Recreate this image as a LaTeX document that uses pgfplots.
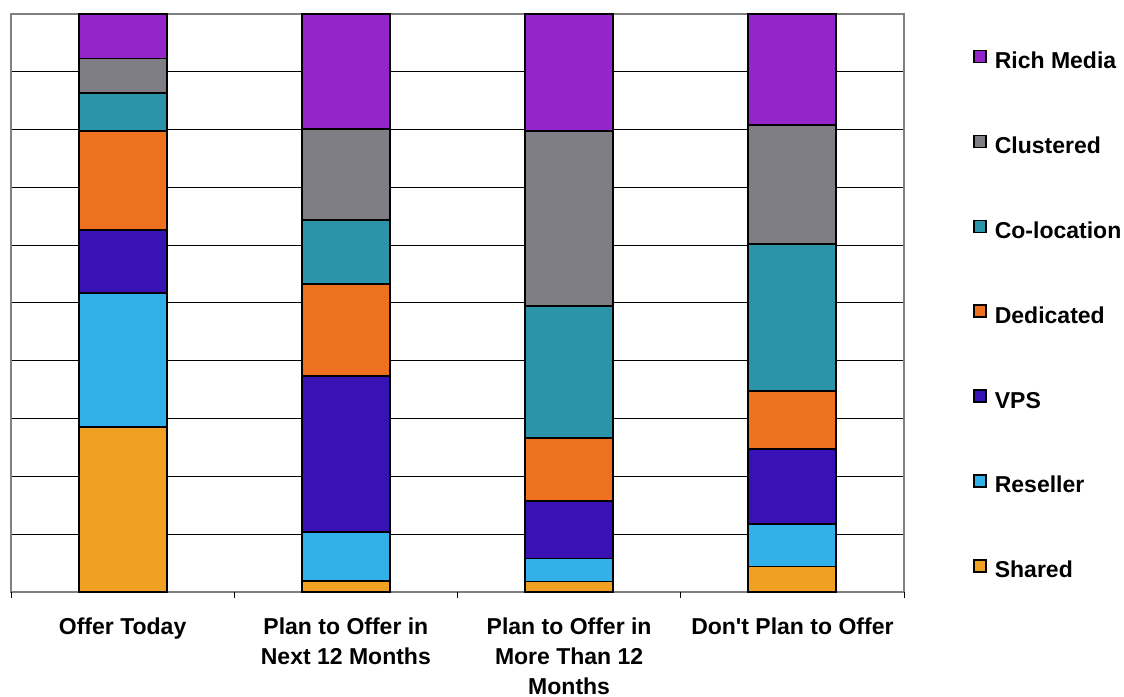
\documentclass[border=0pt]{standalone}
\usepackage{fontspec}
\setmainfont{Liberation Sans}
\usepackage{pgfplots}
\pgfplotsset{compat=1.18}
\definecolor{cRich}{RGB}{149,37,203}
\definecolor{cClus}{RGB}{128,126,133}
\definecolor{cColo}{RGB}{44,148,168}
\definecolor{cDed}{RGB}{238,113,32}
\definecolor{cVPS}{RGB}{57,18,181}
\definecolor{cRes}{RGB}{49,177,232}
\definecolor{cShr}{RGB}{240,160,35}
\begin{document}
\begin{tikzpicture}
\useasboundingbox (-5.5pt,-52pt) rectangle (556.5pt,296pt);
\begin{axis}[
  at={(0pt,0pt)}, anchor=south west,
  scale only axis, width=446.5pt, height=289pt,
  xmin=-0.5, xmax=3.5, ymin=0, ymax=100,
  ybar stacked, bar width=44pt,
  axis line style={draw=gray, line width=0.8pt},
  ytick={0,10,...,100}, yticklabels={}, ytick style={draw=none},
  ymajorgrids, grid style={draw=black, line width=0.5pt},
  xtick={0,1,2,3},
  xticklabels={Offer Today, {Plan to Offer in\\Next 12 Months}, {Plan to Offer in\\More Than 12\\Months}, Don\textquotesingle t Plan to Offer},
  major tick length=0pt, tick align=outside, xtick pos=lower,
  xticklabel style={align=center, inner sep=0pt, yshift=-12.5pt, font=\fontsize{11.5}{15}\selectfont\bfseries},
  extra x ticks={-0.5,0.5,1.5,2.5,3.5}, extra x tick labels={},
  extra x tick style={major tick length=3pt, xtick style={draw=black, line width=0.5pt}},
  every axis plot/.append style={draw=black, line width=0.9pt},
  legend image code/.code={\draw[#1, line width=0.7pt] (0pt,0pt) rectangle (6pt,6pt);},
  reverse legend,
  legend cell align=left,
  legend style={draw=none, fill=none, inner sep=0pt, at={(1.0773,0.9388)}, anchor=north west,
    row sep=30.6pt, column sep=4pt,
    nodes={inner sep=0pt, text height=8.5pt, text depth=2.5pt},
    font=\fontsize{11.5}{15}\selectfont\bfseries},
]
\addplot[fill=cShr] coordinates {(0,28.5) (1,1.9) (2,1.8) (3,4.4)};
\addplot[fill=cRes] coordinates {(0,23.2) (1,8.5) (2,4.0) (3,7.3)};
\addplot[fill=cVPS] coordinates {(0,10.9) (1,27.0) (2,9.9) (3,13.1)};
\addplot[fill=cDed] coordinates {(0,17.1) (1,15.9) (2,11.0) (3,10.0)};
\addplot[fill=cColo] coordinates {(0,6.7) (1,11.1) (2,22.8) (3,25.4)};
\addplot[fill=cClus] coordinates {(0,5.9) (1,15.7) (2,30.3) (3,20.6)};
\addplot[fill=cRich] coordinates {(0,7.7) (1,19.9) (2,20.2) (3,19.2)};
\legend{Shared, Reseller, VPS, Dedicated, Co-location, Clustered, Rich Media}
\end{axis}
\end{tikzpicture}
\end{document}
